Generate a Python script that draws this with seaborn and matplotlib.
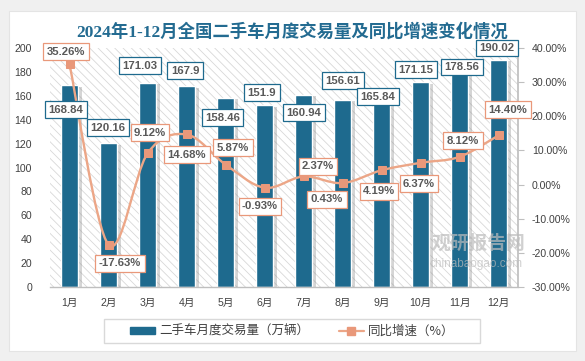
import numpy as np
import pandas as pd
import matplotlib
matplotlib.use("Agg")
import matplotlib.pyplot as plt
import seaborn as sns
from matplotlib.path import Path
from matplotlib.patches import PathPatch, Rectangle, Patch
from matplotlib.lines import Line2D
import matplotlib.patheffects as pe

# ---------------- data ----------------
months = ['1月', '2月', '3月', '4月', '5月', '6月', '7月', '8月', '9月', '10月', '11月', '12月']
volume = [168.84, 120.16, 171.03, 167.9, 158.46, 151.9, 160.94, 156.61, 165.84, 171.15, 178.56, 190.02]
yoy = [35.26, -17.63, 9.12, 14.68, 5.87, -0.93, 2.37, 0.43, 4.19, 6.37, 8.12, 14.40]
left_ticks = [0, 20, 40, 60, 80, 100, 120, 140, 160, 180, 200]
right_ticks = [-30, -20, -10, 0, 10, 20, 30, 40]
title = '2024年1-12月全国二手车月度交易量及同比增速变化情况'
legend_labels = ['二手车月度交易量（万辆）', '同比增速（%）']

# label offsets (pixels) relative to the mark - layout only
vol_off = [(-3.5, -24.6), (-0.5, 15.8), (-7.5, 16.8), (-1.5, 15.5), (-3, -20.2), (-2.5, 12.7),
           (0.5, -18.1), (0.5, 19.1), (-3.5, -8), (-4.5, 12.6), (2.5, 6.7), (-1.5, 12)]
pct_off = [(-3.5, 12.3), (11.5, -18.4), (2.5, 20.9), (0.5, -20.2), (7.5, 17), (-4.5, -18.7),
           (14.5, 10), (-15.5, -16.3), (-2.5, -21.2), (-1.5, -20.7), (3.5, 16.3), (9.5, 25.8)]

BAR = '#1e6a8e'
LINE = '#eca687'
MARK = '#e9987a'
TXT = '#404040'
LBL = '#595959'

sns.set_theme(style='white')
plt.rcParams['font.family'] = ['Liberation Sans', 'Noto Sans CJK SC', 'DejaVu Sans']
plt.rcParams['hatch.linewidth'] = 0.6

W, H = 585, 361
fig = plt.figure(figsize=(W / 100, H / 100), dpi=100)
fig.set_facecolor('#f0f0f0')
fig.patches.append(Rectangle((9 / W, 1 - 351 / H), (576 - 9) / W, (351 - 11) / H,
                             transform=fig.transFigure, fc='white', ec='#e4e4e4', lw=0.8, zorder=-5))

ax = fig.add_axes([50 / W, 1 - 287 / H, 468 / W, (287 - 48) / H])
ax.set_facecolor('white')
ax.add_patch(Rectangle((0, 0), 1, 1, transform=ax.transAxes, fc='white', ec='#d8d8d8',
                       lw=0, hatch='\\\\\\\\', zorder=0))

df = pd.DataFrame({'month': months, 'volume': volume, 'yoy': yoy})
sns.barplot(data=df, x='month', y='volume', ax=ax, color=BAR, saturation=1, width=0.42, zorder=2)
for b in ax.patches[1:]:
    b.set_path_effects([pe.SimplePatchShadow(offset=(3, -1), shadow_rgbFace='#888888', alpha=0.35),
                        pe.Normal()])

ax.set_ylim(0, 200)
ax.set_yticks(left_ticks)
ax.set_xlabel('')
ax.set_ylabel('')
for s in ['left', 'top', 'right']:
    ax.spines[s].set_visible(False)
ax.spines['bottom'].set_color('#bfbfbf')
ax.spines['bottom'].set_linewidth(1)
ax.tick_params(axis='y', length=0, pad=13, labelsize=7.6, labelcolor=TXT)
ax.tick_params(axis='x', length=0, pad=8, labelsize=7.6, labelcolor=TXT)

ax2 = ax.twinx()
sns.lineplot(data=df, x='month', y='yoy', ax=ax2, marker='s', linestyle='', markersize=6,
             color=MARK, markeredgecolor=MARK, markerfacecolor=MARK, zorder=5)
# smooth curve through the points (Excel-like smoothing)
xs = np.arange(len(yoy), dtype=float)
P = np.column_stack([xs, np.array(yoy, dtype=float)])
verts = [P[0]]
codes = [Path.MOVETO]
n = len(P)
for i in range(n - 1):
    p0 = P[i - 1] if i > 0 else P[i]
    p1, p2 = P[i], P[i + 1]
    p3 = P[i + 2] if i + 2 < n else P[i + 1]
    verts += [p1 + (p2 - p0) / 6, p2 - (p3 - p1) / 6, p2]
    codes += [Path.CURVE4] * 3
ax2.add_patch(PathPatch(Path(verts, codes), fill=False, ec=LINE, lw=1.7, zorder=4))

ax2.set_ylim(-30, 40)
ax2.set_yticks(right_ticks)
ax2.set_yticklabels([f'{t:.2f}%' for t in right_ticks])
ax2.set_ylabel('')
for s in ['left', 'top', 'bottom']:
    ax2.spines[s].set_visible(False)
ax2.spines['right'].set_color('#bfbfbf')
ax2.tick_params(axis='y', length=4, width=0.8, color='#bfbfbf', direction='out', pad=6,
                labelsize=7.6, labelcolor=TXT)
ax.set_xlim(-0.5, 11.5)

# data labels
for i, v in enumerate(volume):
    ax2.annotate(f'{v:g}', xy=(i, v), xycoords=ax.transData, xytext=vol_off[i],
                 textcoords='offset pixels', ha='center', va='center', fontsize=8.2,
                 fontweight='bold', color=LBL, zorder=10,
                 bbox=dict(boxstyle='square,pad=0.3', fc='white', ec=BAR, lw=0.9),
                 annotation_clip=False)
for i, p in enumerate(yoy):
    ax2.annotate(f'{p:.2f}%', xy=(i, p), xytext=pct_off[i], textcoords='offset pixels',
                 ha='center', va='center', fontsize=8.2, fontweight='bold', color=LBL, zorder=10,
                 bbox=dict(boxstyle='square,pad=0.3', fc='white', ec=MARK, lw=0.9),
                 annotation_clip=False)

# title
fig.text(0.5, 1 - 32 / H, title, ha='center', va='center', fontsize=12.5, fontweight='bold',
         color='#236b91', family=['Liberation Serif', 'Noto Sans CJK SC'])

# watermark
fig.text(478 / W, 1 - 243 / H, '观研报告网', ha='center', va='center', fontsize=13.5,
         fontweight='bold', color='#bcbcbc', alpha=0.7, family=['Noto Sans CJK SC'], zorder=20)
fig.text(476 / W, 1 - 264 / H, 'chinabaogao.com', ha='center', va='center', fontsize=8.5,
         color='#bcbcbc', alpha=0.7, zorder=20)

# legend
handles = [Patch(fc=BAR, ec=BAR),
           Line2D([], [], color=LINE, lw=1.6, marker='s', markersize=5.5, mfc=MARK, mec=MARK)]
fig.legend(handles, legend_labels, loc='center', bbox_to_anchor=(292 / W, 1 - 331 / H), ncol=2,
           frameon=False, fontsize=9, handlelength=2.0, handleheight=0.5, handletextpad=0.3,
           columnspacing=2.4, labelcolor=TXT, prop={'family': ['Noto Sans CJK SC'], 'size': 9})
fig.patches.append(Rectangle((104 / W, 1 - 343 / H), 376 / W, 24 / H, transform=fig.transFigure,
                             fc='none', ec='#d9d9d9', lw=1, zorder=5))

fig.savefig('out.png', dpi=100, facecolor=fig.get_facecolor())
